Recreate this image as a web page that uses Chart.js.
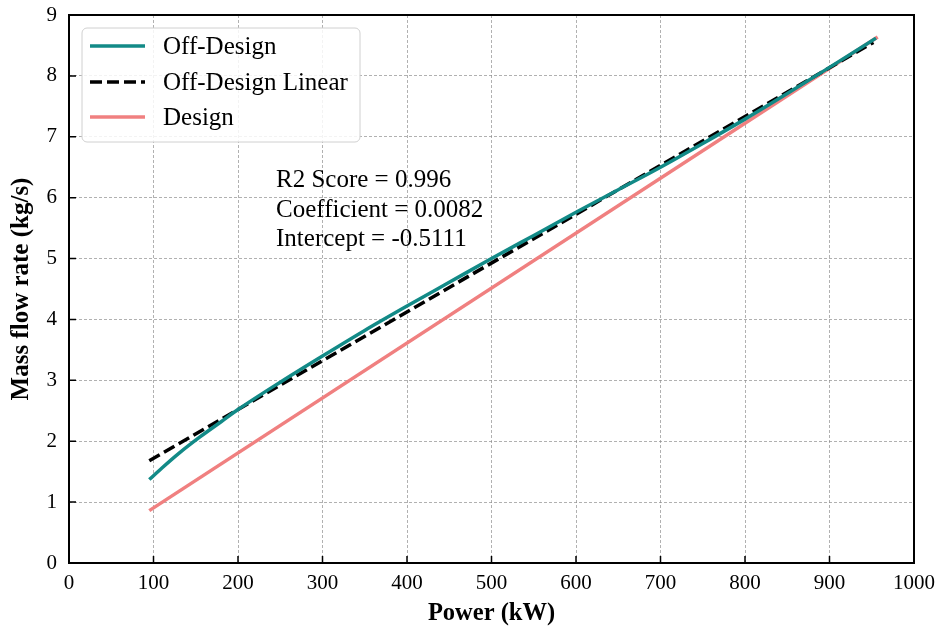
<!DOCTYPE html>
<html>
<head>
<meta charset="utf-8">
<script src="https://cdn.jsdelivr.net/npm/chart.js@4.4.1/dist/chart.umd.min.js"></script>
<style>
  html, body { margin: 0; padding: 0; background: #fff; }
  canvas { display: block; }
</style>
</head>
<body>
<canvas id="flowChart" width="938" height="630"></canvas>
<script>
// values
const offDesignPower = [95, 110, 130, 155, 180, 200, 250, 300, 350, 400, 450, 500, 550, 600, 650, 700, 750, 800, 850, 900, 955];
const offDesignFlow  = [1.37, 1.56, 1.80, 2.07, 2.32, 2.52, 2.97, 3.40, 3.82, 4.22, 4.61, 5.00, 5.38, 5.76, 6.13, 6.50, 6.89, 7.29, 7.71, 8.14, 8.62];
const linearPower = [95, 952];
const linearFlow  = [1.68, 8.55];
const designPower = [95, 957];
const designFlow  = [0.86, 8.64];
const statLines = ['R2 Score = 0.996', 'Coefficient = 0.0082', 'Intercept = -0.5111'];

const SERIF = '"Liberation Serif", "Times New Roman", serif';
Chart.defaults.font.family = SERIF;
Chart.defaults.color = '#000';

const toPoints = (xs, ys) => xs.map((x, i) => ({ x: x, y: ys[i] }));

// frame, inward ticks, legend box and the fit text
const decorations = {
    id: 'decorations',
    afterDraw(chart) {
        const ctx = chart.ctx;
        const area = chart.chartArea;
        const xs = chart.scales.x;
        const ys = chart.scales.y;
        ctx.save();

        // inward ticks
        ctx.strokeStyle = '#000';
        ctx.lineWidth = 1.5;
        ctx.beginPath();
        xs.ticks.forEach(t => {
            const px = xs.getPixelForValue(t.value);
            ctx.moveTo(px, area.bottom);
            ctx.lineTo(px, area.bottom - 7);
        });
        ys.ticks.forEach(t => {
            const py = ys.getPixelForValue(t.value);
            ctx.moveTo(area.left, py);
            ctx.lineTo(area.left + 7, py);
        });
        ctx.stroke();

        // frame
        ctx.lineWidth = 2;
        ctx.strokeRect(area.left, area.top, area.right - area.left, area.bottom - area.top);

        // legend
        const bx = area.left + 13, by = area.top + 13, bw = 278, bh = 114;
        ctx.beginPath();
        ctx.roundRect(bx, by, bw, bh, 5);
        ctx.fillStyle = 'rgba(255,255,255,0.85)';
        ctx.fill();
        ctx.strokeStyle = '#d0d0d0';
        ctx.lineWidth = 1;
        ctx.stroke();

        const rows = [18, 54, 89];
        ctx.font = '25px ' + SERIF;
        ctx.textBaseline = 'alphabetic';
        chart.data.datasets.forEach((ds, i) => {
            const ry = by + rows[i];
            ctx.beginPath();
            ctx.strokeStyle = ds.borderColor;
            ctx.lineWidth = ds.borderWidth;
            ctx.setLineDash(ds.borderDash || []);
            ctx.moveTo(bx + 8, ry);
            ctx.lineTo(bx + 63, ry);
            ctx.stroke();
            ctx.setLineDash([]);
            ctx.fillStyle = '#000';
            ctx.fillText(ds.label, bx + 81, ry + 8);
        });

        // fit statistics
        const tx = xs.getPixelForValue(245);
        const ty = ys.getPixelForValue(6.17);
        statLines.forEach((s, i) => {
            ctx.fillText(s, tx, ty + i * 29.5);
        });

        ctx.restore();
    }
};

const gridStyle = { color: 'rgba(140,140,140,0.85)', lineWidth: 0.8, drawTicks: false };

new Chart(document.getElementById('flowChart'), {
    type: 'line',
    data: {
        datasets: [{
            label: 'Off-Design',
            data: toPoints(offDesignPower, offDesignFlow),
            borderColor: '#128a87',
            borderWidth: 3.5,
            cubicInterpolationMode: 'monotone',
            pointRadius: 0,
            fill: false
        }, {
            label: 'Off-Design Linear',
            data: toPoints(linearPower, linearFlow),
            borderColor: '#000',
            borderWidth: 3.5,
            borderDash: [12, 5],
            pointRadius: 0,
            fill: false
        }, {
            label: 'Design',
            data: toPoints(designPower, designFlow),
            borderColor: '#f08080',
            borderWidth: 3.5,
            pointRadius: 0,
            fill: false
        }]
    },
    options: {
        responsive: false,
        animation: false,
        layout: { padding: { left: 0, right: 24, top: 15, bottom: 0 } },
        plugins: {
            legend: { display: false },
            tooltip: { enabled: false }
        },
        scales: {
            x: {
                type: 'linear',
                min: 0,
                max: 1000,
                ticks: {
                    stepSize: 100,
                    font: { size: 21 },
                    padding: 8,
                    color: '#000',
                    callback: v => String(v)
                },
                grid: gridStyle,
                border: { display: false, dash: [3, 2] },
                title: {
                    display: true,
                    text: 'Power (kW)',
                    font: { size: 24.5, weight: 'bold' },
                    color: '#000',
                    padding: { top: 0, bottom: 2 }
                },
                afterFit(scale) {
                    scale.height = 67;
                    scale.paddingLeft = 0;
                    scale.paddingRight = 0;
                }
            },
            y: {
                min: 0,
                max: 9,
                ticks: { stepSize: 1, font: { size: 21 }, padding: 12, color: '#000' },
                grid: gridStyle,
                border: { display: false, dash: [3, 2] },
                title: {
                    display: true,
                    text: 'Mass flow rate (kg/s)',
                    font: { size: 25, weight: 'bold' },
                    color: '#000',
                    padding: { top: 7, bottom: 0 }
                },
                afterFit(scale) {
                    scale.width = 69;
                    scale.paddingTop = 0;
                    scale.paddingBottom = 0;
                }
            }
        }
    },
    plugins: [decorations]
});
</script>
</body>
</html>
